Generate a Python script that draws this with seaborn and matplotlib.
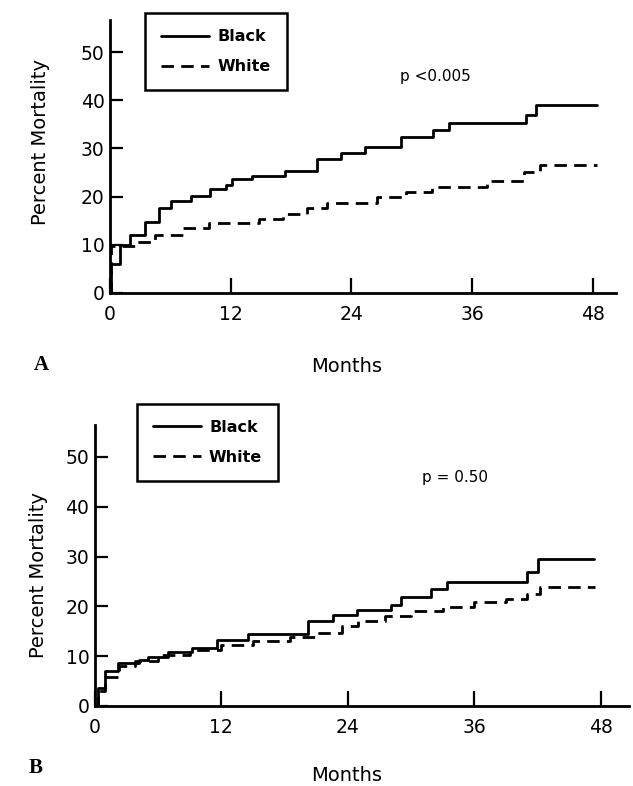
import numpy as np
import pandas as pd
import matplotlib
matplotlib.use('Agg')
import matplotlib.pyplot as plt
import seaborn as sns

# Panel A values (months, percent mortality)
months_a_black = [0, 0.1, 1.0, 2.0, 3.5, 4.9, 6.1, 8.1, 9.9, 11.5, 12.1, 14.1, 17.4, 20.6,
                  23.0, 25.4, 28.9, 32.1, 33.7, 41.4, 42.4, 48.4]
mort_a_black = [0, 5.9, 9.9, 12.1, 14.8, 17.6, 19.1, 20.1, 21.5, 22.3, 23.7, 24.3, 25.3, 27.7,
                29.0, 30.3, 32.3, 33.8, 35.3, 36.9, 39.0, 39.0]
months_a_white = [0, 0.05, 2.5, 4.5, 7.3, 9.8, 14.8, 17.2, 19.6, 21.6, 26.6, 29.4, 32.0,
                  37.5, 41.2, 42.8, 48.4]
mort_a_white = [0, 9.8, 10.6, 12.0, 13.4, 14.5, 15.3, 16.3, 17.7, 18.7, 20.0, 21.0, 22.0,
                23.2, 25.0, 26.5, 26.5]

# Panel B values
months_b_black = [0, 0.25, 1.0, 2.2, 4.2, 5.0, 6.9, 9.2, 11.6, 14.5, 20.2, 22.6, 24.9, 28.1,
                  29.1, 31.9, 33.4, 41.0, 42.1, 47.4]
mort_b_black = [0, 3.7, 7.1, 8.7, 9.3, 9.8, 10.9, 11.6, 13.3, 14.4, 17.0, 18.2, 19.2, 20.2,
                21.8, 23.5, 24.8, 26.8, 29.5, 29.5]
months_b_white = [0, 0.3, 1.0, 2.3, 3.8, 6.0, 9.0, 12.0, 15.0, 18.5, 21.0, 23.5, 25.0, 27.5,
                  30.0, 33.0, 36.0, 39.0, 41.0, 42.3, 47.5]
mort_b_white = [0, 3.0, 5.8, 8.0, 9.0, 10.2, 11.2, 12.2, 13.0, 13.8, 14.6, 16.0, 17.0, 18.0,
                19.0, 19.8, 20.8, 21.5, 22.5, 23.8, 23.8]

groups = ['Black', 'White']
x_ticks = [0, 12, 24, 36, 48]
y_ticks = [0, 10, 20, 30, 40, 50]
p_texts = ['p <0.005', 'p = 0.50']
panel_letters = ['A', 'B']

sns.set_theme(style='white')
plt.rcParams['font.family'] = ['DejaVu Sans']
plt.rcParams['text.color'] = 'black'
plt.rcParams['axes.labelcolor'] = 'black'
plt.rcParams['xtick.color'] = 'black'
plt.rcParams['ytick.color'] = 'black'


def make_df(mb, yb, mw, yw):
    return pd.DataFrame({
        'Months': mb + mw,
        'Mortality': yb + yw,
        'Race': [groups[0]] * len(mb) + [groups[1]] * len(mw),
    })


def draw_panel(ax, df, xmax, ymax, p_text, p_xy, leg_anchor):
    sns.lineplot(data=df, x='Months', y='Mortality', style='Race', style_order=groups,
                 dashes={'Black': '', 'White': (4.5, 2.6)}, color='black',
                 estimator=None, sort=False, drawstyle='steps-post', linewidth=2.0, ax=ax)
    ax.set_xlim(0, xmax)
    ax.set_ylim(0, ymax)
    ax.set_xticks(x_ticks)
    ax.set_yticks(y_ticks)
    ax.tick_params(axis='x', direction='in', length=11, width=1.6, pad=9, labelsize=13.5)
    ax.tick_params(axis='y', direction='in', length=9, width=1.6, pad=4, labelsize=13.5)
    ax.tick_params(left=True, bottom=True)
    for s in ['top', 'right']:
        ax.spines[s].set_visible(False)
    for s in ['left', 'bottom']:
        ax.spines[s].set_linewidth(2)
        ax.spines[s].set_color('black')
    ax.set_xlabel('Months', fontsize=14)
    ax.set_ylabel('Percent Mortality', fontsize=14)
    ax.text(p_xy[0], p_xy[1], p_text, ha='center', va='center', fontsize=11)
    handles, labels = ax.get_legend_handles_labels()
    leg = ax.legend(handles, labels, loc='upper left', bbox_to_anchor=leg_anchor,
                    frameon=True, fancybox=False, edgecolor='black', framealpha=1,
                    fontsize=11.5, handlelength=3.0, handletextpad=0.5, borderpad=1.0,
                    labelspacing=0.95, borderaxespad=0)
    leg.get_frame().set_linewidth(1.8)
    for t in leg.get_texts():
        t.set_fontweight('bold')
    leg.set_clip_on(False)


fig = plt.figure(figsize=(6.33, 7.86), dpi=100)
ax_a = fig.add_axes([0.1738, 0.6276, 0.799, 0.347])
ax_b = fig.add_axes([0.150, 0.1018, 0.8436, 0.3575])

draw_panel(ax_a, make_df(months_a_black, mort_a_black, months_a_white, mort_a_white),
           50.3, 56.7, p_texts[0], (32.4, 45), (0.07, 1.025))
ax_a.xaxis.set_label_coords(0.468, -0.236)
ax_a.yaxis.set_label_coords(-0.118, 0.553)

draw_panel(ax_b, make_df(months_b_black, mort_b_black, months_b_white, mort_b_white),
           50.7, 56.4, p_texts[1], (34.2, 45.8), (0.079, 1.075))
ax_b.xaxis.set_label_coords(0.472, -0.213)
ax_b.yaxis.set_label_coords(-0.088, 0.466)

fig.text(41 / 633, 1 - 365 / 786, panel_letters[0], family='Liberation Serif',
         fontweight='bold', fontsize=15, ha='center', va='center')
fig.text(36 / 633, 1 - 768 / 786, panel_letters[1], family='Liberation Serif',
         fontweight='bold', fontsize=15, ha='center', va='center')

fig.savefig('out.png', dpi=100)
